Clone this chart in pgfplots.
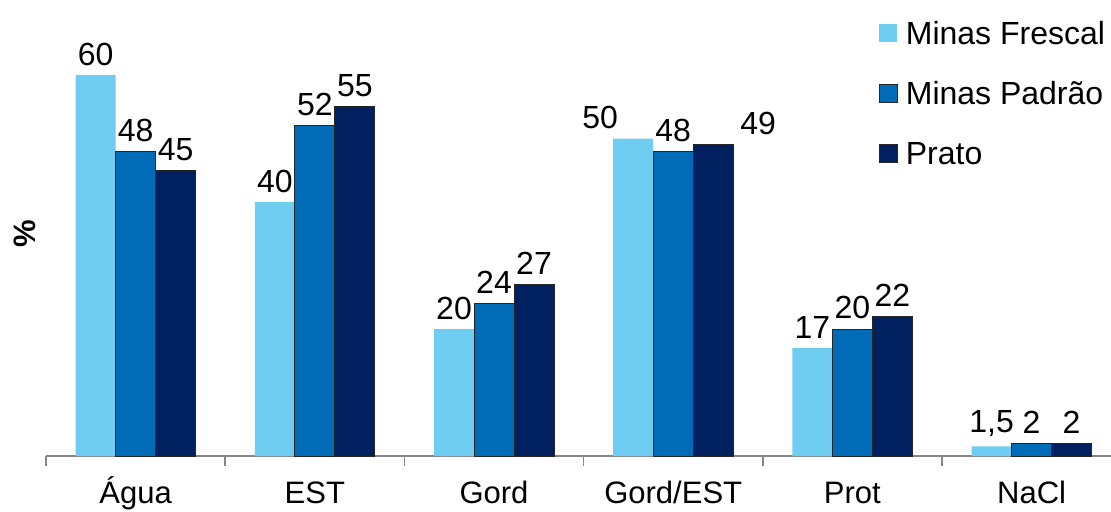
\documentclass[border=0pt]{standalone}
\usepackage{pgfplots}
\pgfplotsset{compat=1.18}
\usepackage{pgfplotstable}
\usepackage{fontspec}
\setmainfont{Liberation Sans}
\definecolor{cLight}{RGB}{112,205,242}
\definecolor{cMed}{RGB}{0,107,182}
\definecolor{cDark}{RGB}{0,32,96}
\definecolor{axgray}{RGB}{134,134,134}

\pgfplotstableread{
x y dx
0 60 0
1 40 0
2 20 0
3 50 -16.5
4 17 0
5 1.5 0
}\tFres
\pgfplotstableread{
x y dx
0 48 0
1 52 0
2 24 0
3 48 0
4 20 0
5 2 0
}\tPadr
\pgfplotstableread{
x y dx
0 45 0
1 55 0
2 27 0
3 49 22.5
4 22 0
5 2 0
}\tPrat

\pgfplotsset{
  sq legend/.style={legend image code/.code={\draw[##1] (0pt,1pt) rectangle (9pt,10pt);}},
  sq legend light/.style={legend image code/.code={\fill[cLight] (0pt,1pt) rectangle (9pt,10pt);}},
}

\begin{document}
\begin{tikzpicture}
\path[use as bounding box] (-23pt,-27.5pt) rectangle (532.5pt,228pt);
\begin{axis}[
  at={(0,0)}, anchor=south west,
  scale only axis, width=532.5pt, height=222.25pt,
  xmin=-0.5, xmax=5.443, ymin=0, ymax=70,
  clip=false,
  ybar=0pt, bar width=20pt,
  axis x line*=bottom, axis y line=none,
  axis line style={axgray, line width=0.75pt},
  xtick={0,...,5}, xticklabels={Água,EST,Gord,Gord/EST,Prot,NaCl},
  major tick length=0pt,
  extra x ticks={-0.5,0.5,1.5,2.5,3.5,4.5},
  extra x tick labels={},
  extra x tick style={major tick length=5pt, tick align=outside, tick style={axgray, line width=0.75pt}},
  xticklabel style={font=\fontsize{15.5}{18}\selectfont, anchor=base, yshift=-23.5pt},
  nodes near coords,
  nodes near coords style={font=\fontsize{16}{19}\selectfont, yshift=1.3pt},
  /pgf/number format/assume math mode=true,
  /pgf/number format/use comma,
  visualization depends on={\thisrow{dx} \as \dx},
  every node near coord/.append style={xshift=\dx pt},
  legend style={at={(rel axis cs:0.782,0.9786)}, anchor=north west, draw=none, fill=none,
    inner sep=0pt, outer sep=0pt, row sep=16pt, column sep=4pt,
    nodes={inner sep=0pt, text height=11.5pt, text depth=2.5pt, font=\fontsize{16}{19}\selectfont, anchor=base west}},
  legend cell align=left,
]
\addplot[fill=cLight, draw=none, sq legend light] table[x=x,y=y] {\tFres};
\addplot[fill=cMed, draw=black!85, line width=0.5pt, sq legend] table[x=x,y=y] {\tPadr};
\addplot[fill=cDark, draw=black!85, line width=0.5pt, sq legend] table[x=x,y=y] {\tPrat};
\legend{Minas Frescal, Minas Padrão, Prato}
\node[rotate=90, anchor=center, font=\fontsize{15.5}{18}\selectfont\bfseries] at (axis description cs:-0.0197,0.4994) {\%};
\end{axis}
\end{tikzpicture}
\end{document}
